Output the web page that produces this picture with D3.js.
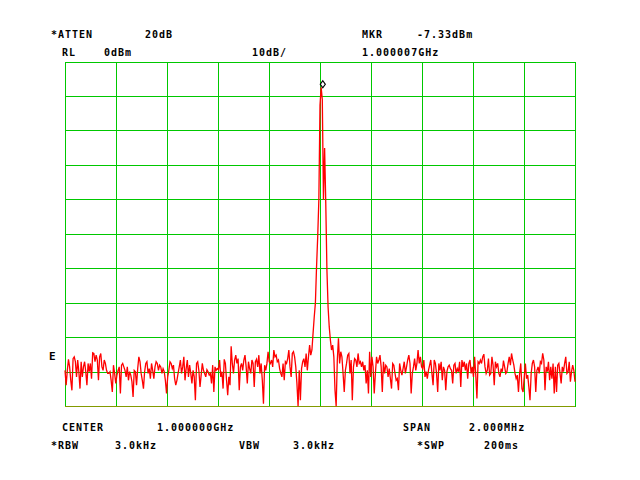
<!DOCTYPE html>
<html>
<head>
<meta charset="utf-8">
<script src="https://cdn.jsdelivr.net/npm/d3@7"></script>
<style>
  body { margin: 0; background: #fff; }
  text { font-family: "DejaVu Sans Mono", monospace; font-weight: bold; font-size: 10px; letter-spacing: 1px; fill: #000; }
</style>
</head>
<body>
<div id="chart"></div>
<script>
// analyzer settings
var refLevel = 0, dbPerDiv = 10, divisions = 10;
var centerMHz = 1000, spanMHz = 2;
var markerMHz = 1000.007, markerDbm = -7.33;

// trace, dBm left to right
var noiseLeft = [
  -89.5,-93.8,-89.5,-86.3,-88.5,-92.4,-95.3,-86.1,-85.6,-87.0,
  -91.4,-86.5,-89.9,-94.8,-87.0,-91.4,-88.5,-87.0,-89.9,-93.8,
  -87.5,-89.9,-87.5,-91.9,-84.4,-84.6,-87.0,-85.1,-86.5,-92.4,
  -85.6,-84.6,-88.5,-89.5,-86.5,-87.5,-89.5,-90.4,-90.4,-89.9,
  -92.4,-95.8,-88.0,-90.4,-93.3,-90.9,-89.5,-88.5,-96.2,-88.0,
  -87.5,-88.5,-89.5,-91.4,-88.5,-92.4,-89.9,-90.9,-92.8,-97.2,
  -89.5,-89.9,-93.8,-89.0,-85.6,-87.0,-90.4,-92.4,-94.8,-89.9,
  -87.5,-87.0,-90.4,-89.0,-91.9,-87.5,-89.5,-91.9,-88.5,-87.0,
  -87.5,-89.5,-88.0,-88.5,-90.4,-89.0,-89.9,-92.4,-96.2,-91.4,
  -89.5,-87.0,-87.5,-89.0,-88.0,-91.9,-93.8,-92.4,-90.4,-88.5,
  -86.5,-90.4,-88.5,-85.6,
  -92.4,-89.0,-86.5,-91.4,-88.0,-90.4,-93.3,-89.5,-91.4,-98.2,
  -87.5,-87.0,-89.5,-94.3,-90.9,-87.5,-89.5,-90.4,-91.4,-89.3,
  -89.9,-90.9,-90.4,-93.3,-88.0,-95.8,-88.5,-89.5,-89.0,-89.3,
  -86.5,-91.4,-89.9,-94.8,-86.3,-87.5,-92.4,-96.7,-91.4,-93.8,
  -82.5,-87.5,-90.4,-86.5,-85.1,-87.5,-86.1,-95.3,-88.5,-87.5,
  -89.5,-86.5,-85.1,-88.5,-93.3,-87.0,-89.0,-90.4,-86.5,-87.5,
  -94.3,-87.0,-86.3,-88.5,-85.1,-90.4,-87.5,-92.4,-99.2,-88.0,
  -89.5,-87.5,-84.1,-87.0,-87.5,-86.5,-88.5,-83.6,-85.6,-85.1,
  -87.0,-86.5,-89.0,-90.4,-91.4,-87.5,-92.4,-87.0,-87.5,-86.1,
  -83.6,-88.5,-91.4,-84.6,-84.1,-85.6,-88.5,-93.3,-99.9,-89.5,
  -98.2,-89.0,-87.0,-86.1,-88.5,-84.6,-89.5,-85.6,-82.2,-85.1,
  -83.6
];
var carrier = [
  -78.7,-74.0,-70.0,-59.5,-50.8,-40.1,-12.5,-7.33,-11.0,-40.0,
  -25.0,-41.0,-60.4,-71.1,-76.9,-80.7,-83.6,-82.2,-85.6,-95.3
];
var noiseRight = [
  -99.9,-86.5,-80.2,-87.5,-84.1,-85.6,-90.4,-95.8,-89.5,-87.5,
  -85.1,-84.6,-90.4,-86.5,-98.2,-88.5,-86.1,-86.5,-88.5,-84.6,
  -87.5,-87.0,-88.5,-87.0,-89.5,-88.0,-93.3,
  -89.5,-96.2,-84.1,-91.4,-85.6,-88.5,-96.2,-90.4,-85.6,-87.5,
  -86.5,-85.1,-88.5,-95.8,-87.0,-90.4,-88.0,-88.5,-91.4,-89.0,
  -91.9,-94.8,-87.5,-88.0,-90.4,-92.4,-91.9,-95.3,-87.5,-89.5,
  -90.9,-89.0,-87.0,-90.4,-88.5,-86.5,-85.1,-87.5,-96.2,-90.4,
  -88.5,-86.1,-89.5,-87.5,-83.6,-87.5,-85.6,-88.5,-89.0,-86.5,
  -91.4,-89.9,-91.9,-89.5,-88.0,-86.5,-90.4,-93.8,-86.5,-87.5,
  -90.4,-95.8,-87.5,-89.5,-87.0,-92.4,-88.5,-89.5,-95.3,-89.9,
  -88.5,-88.0,-89.0,
  -89.5,-93.3,-88.0,-87.5,-90.4,-89.0,-89.9,-87.0,-94.3,-86.5,
  -88.5,-87.0,-89.5,-87.5,-91.9,-87.5,-86.5,-90.4,-88.5,-91.4,
  -85.6,-90.9,-97.7,-87.0,-87.5,-86.5,-87.5,-85.6,-84.8,-88.5,
  -90.4,-89.5,-86.1,-90.9,-90.4,-85.6,-88.0,-93.8,-87.0,-88.5,
  -87.5,-90.4,-91.4,-89.0,-89.9,-86.7,-88.5,-90.4,
  -89.9,-87.5,-85.6,-88.0,-84.6,-86.5,-88.0,-90.4,-91.9,-90.9,
  -95.8,-90.4,-87.5,-94.8,-95.8,-91.4,-87.5,-91.9,-90.9,-94.3,
  -98.2,-90.4,-87.5,-86.5,-88.5,-95.8,-89.5,-88.5,-90.4,-87.0,
  -87.5,-84.6,-86.5,-95.3,-88.5,-89.9,-87.0,-92.4,-88.5,-91.9,
  -87.5,-96.2,-88.5,-95.8,-88.0,-87.5,-90.4,-93.3,-88.5,-89.9,
  -87.5,-85.6,-90.4,-89.9,-87.0,-92.8,-89.9,-88.0,
  -89.5,-92.8
];

// annotation text: [label, x]
var topRow1 = [["*ATTEN", 51], ["20dB", 145], ["MKR", 362], ["-7.33dBm", 417]];
var topRow2 = [["RL", 62], ["0dBm", 104], ["10dB/", 252], ["1.000007GHz", 362]];
var botRow1 = [["CENTER", 62], ["1.000000GHz", 157], ["SPAN", 403], ["2.000MHz", 469]];
var botRow2 = [["*RBW", 51], ["3.0kHz", 115], ["VBW", 239], ["3.0kHz", 293], ["*SWP", 417], ["200ms", 484]];

var trace = noiseLeft.concat(carrier, noiseRight);

var W = 640, H = 480;
var plot = {left: 65, right: 575, top: 62, bottom: 406.5};

var svg = d3.select("#chart").append("svg")
  .attr("width", W).attr("height", H);

var x = d3.scaleLinear()
  .domain([centerMHz - spanMHz / 2, centerMHz + spanMHz / 2])
  .range([plot.left, plot.right]);
var y = d3.scaleLinear()
  .domain([refLevel - dbPerDiv * divisions, refLevel])
  .range([plot.bottom, plot.top]);

// frequency of each trace point
var fStep = spanMHz / (trace.length - 1);
function freq(i) { return x.domain()[0] + i * fStep; }

// graticule
var grid = svg.append("g").attr("shape-rendering", "crispEdges");
grid.selectAll("line.v")
  .data(d3.range(divisions + 1))
  .enter().append("line")
    .attr("class", "v")
    .attr("x1", function(d) { return x(x.domain()[0] + d * spanMHz / divisions); })
    .attr("x2", function(d) { return x(x.domain()[0] + d * spanMHz / divisions); })
    .attr("y1", plot.top).attr("y2", plot.bottom)
    .style("stroke", "#00c800");
grid.selectAll("line.h")
  .data(d3.range(divisions + 1))
  .enter().append("line")
    .attr("class", "h")
    .attr("x1", plot.left).attr("x2", plot.right)
    .attr("y1", function(d) { return y(refLevel - d * dbPerDiv); })
    .attr("y2", function(d) { return y(refLevel - d * dbPerDiv); })
    .style("stroke", function(d) { return d == divisions ? "#839a00" : "#00c800"; });

// trace
var line = d3.line()
  .x(function(d, i) { return x(freq(i)); })
  .y(function(d) { return y(Math.max(d, y.domain()[0])); });

svg.append("path")
  .datum(trace)
  .attr("d", line)
  .style("fill", "none")
  .style("stroke", "#ff0000")
  .style("stroke-width", 1.3);

// marker diamond, sitting on the peak
var mx = x(markerMHz), my = y(markerDbm);
svg.append("path")
  .attr("d", "M" + mx + "," + (my + 0.5) + "l-2.5,-3.5l2.5,-3.5l2.5,3.5z")
  .attr("transform", "translate(1,0)")
  .style("fill", "#fff")
  .style("stroke", "#000")
  .style("stroke-width", 1.2);

// annotations
function row(items, yBase) {
  svg.append("g").selectAll("text")
    .data(items).enter().append("text")
      .attr("x", function(d) { return d[1]; })
      .attr("y", yBase)
      .text(function(d) { return d[0]; });
}
row(topRow1, 38);
row(topRow2, 56);
row(botRow1, 431);
row(botRow2, 448.5);

svg.append("text").attr("x", 49).attr("y", 360).style("font-size", "11px").text("E");
</script>
</body>
</html>
